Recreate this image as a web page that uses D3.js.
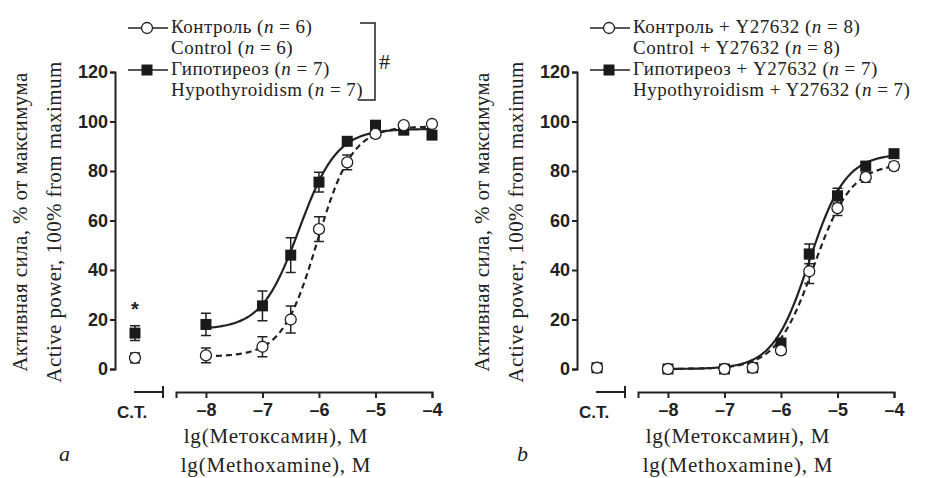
<!DOCTYPE html>
<html>
<head>
<meta charset="utf-8">
<script src="https://cdn.jsdelivr.net/npm/d3@7"></script>
<style>
  body { margin: 0; background: #fff; }
  .tick text { font-family: "Liberation Sans", Arial, sans-serif; font-weight: bold; font-size: 18px; fill: #222; }
  .serif { font-family: "Liberation Serif", "Times New Roman", serif; font-size: 21px; fill: #222; }
  .legend { font-size: 19px; letter-spacing: 0.5px; }
</style>
</head>
<body>
<svg id="chart" width="928" height="478"></svg>
<script>
// concentrations, lg M
var conc = [-8, -7, -6.5, -6, -5.5, -5, -4.5, -4];
var xTicks = [-8, -7, -6, -5, -4];
var yTicks = [0, 20, 40, 60, 80, 100, 120];

// panel a
var ctrlA    = [5.5, 9, 20, 56.5, 83.5, 95, 98.5, 99];
var ctrlAErr = [3, 4, 5.5, 5, 3, 1.5, 1, 1];
var hypoA    = [18, 25.5, 46, 75.5, 92, 98.5, 96.5, 94.5];
var hypoAErr = [4.5, 6, 7, 4, 1.5, 1.5, 1.5, 1];
var ctA      = [4.5, 14.5];   // control, hypo at C.T.
var ctAErr   = [2, 3];
// fit: bottom, top, logEC50, hill slope
var fitCtrlA = [5, 98, -6.03, 1.4];
var fitHypoA = [16, 97, -6.35, 1.3];

// panel b
var ctrlB    = [0, 0, 0.5, 7.5, 39.5, 65, 77.5, 82];
var ctrlBErr = [0.5, 0.5, 0.5, 1.5, 5, 3, 2, 1.5];
var hypoB    = [0, 0, 0.5, 10.5, 46.5, 70, 82, 87];
var hypoBErr = [0.5, 0.5, 0.5, 1.5, 4, 3, 1.5, 1];
var ctB      = [0.5, 0.5];
var ctBErr   = [0.5, 0.5];
var fitCtrlB = [0, 83, -5.42, 1.3];
var fitHypoB = [0, 87, -5.5, 1.35];

var legendA = [["Контроль", " (", "n", " = 6)"], ["Control", " (", "n", " = 6)"],
               ["Гипотиреоз", " (", "n", " = 7)"], ["Hypothyroidism", " (", "n", " = 7)"]];
var legendB = [["Контроль + Y27632", " (", "n", " = 8)"], ["Control + Y27632", " (", "n", " = 8)"],
               ["Гипотиреоз + Y27632", "  (", "n", " = 7)"], ["Hypothyroidism + Y27632", "  (", "n", " = 7)"]];

var svg = d3.select("#chart");
var ink = "#222";

function hill(p, x) {
  return p[0] + (p[1] - p[0]) / (1 + Math.pow(10, (p[2] - x) * p[3]));
}

function panel(o) {
  var ox = o.ox;
  var g = svg.append("g").attr("transform", "translate(" + ox + ",0)");

  var y = d3.scaleLinear().domain([0, 120]).range([369, 72]);
  var x = d3.scaleLinear().domain([-8.53, -4]).range([176, 432]);
  var ctX = 135;

  // y axis
  var ya = g.append("g").attr("transform", "translate(115,0)")
    .call(d3.axisLeft(y).tickValues(yTicks).tickSize(5).tickPadding(2));
  ya.selectAll("path, line").attr("stroke", ink).attr("stroke-width", 2);

  // x axis main
  var xa = g.append("g").attr("transform", "translate(0,392)")
    .call(d3.axisBottom(x).tickValues(xTicks).tickSize(6).tickPadding(5).tickSizeOuter(6)
      .tickFormat(function(d) { return "–" + Math.abs(d); }));
  xa.selectAll("path, line").attr("stroke", ink).attr("stroke-width", 2);

  // C.T. segment
  g.append("path").attr("d", "M134,392H163M163,386V398")
    .attr("stroke", ink).attr("stroke-width", 2).attr("fill", "none");
  g.append("text").attr("x", 132).attr("y", 418).attr("text-anchor", "middle")
    .style("font-family", "Liberation Sans, Arial, sans-serif").style("font-weight", "bold")
    .style("font-size", "17px").attr("fill", ink).text("C.T.");

  // fitted curves
  var grid = d3.range(-8, -3.999, 0.02);
  var line = d3.line().x(function(d) { return x(d[0]); }).y(function(d) { return y(d[1]); });
  g.append("path").datum(grid.map(function(v) { return [v, hill(o.fitCtrl, v)]; }))
    .attr("d", line).attr("fill", "none").attr("stroke", ink)
    .attr("stroke-width", 2.2).attr("stroke-dasharray", "6,4");
  g.append("path").datum(grid.map(function(v) { return [v, hill(o.fitHypo, v)]; }))
    .attr("d", line).attr("fill", "none").attr("stroke", ink).attr("stroke-width", 2.2);

  function series(vals, errs, ctv, cte, shape) {
    var pts = conc.map(function(c, i) { return { x: x(c), v: vals[i], e: errs[i] }; });
    pts.unshift({ x: ctX, v: ctv, e: cte });
    var eb = g.append("g").attr("stroke", ink).attr("stroke-width", 1.5);
    pts.forEach(function(p) {
      eb.append("path").attr("d",
        "M" + p.x + "," + y(p.v - p.e) + "V" + y(p.v + p.e) +
        "M" + (p.x - 5) + "," + y(p.v - p.e) + "H" + (p.x + 5) +
        "M" + (p.x - 5) + "," + y(p.v + p.e) + "H" + (p.x + 5));
    });
    if (shape === "sq") {
      g.selectAll(null).data(pts).enter().append("rect")
        .attr("x", function(d) { return d.x - 5.5; }).attr("y", function(d) { return y(d.v) - 5.5; })
        .attr("width", 11).attr("height", 11).attr("fill", "#1a1a1a");
    } else {
      g.selectAll(null).data(pts).enter().append("circle")
        .attr("cx", function(d) { return d.x; }).attr("cy", function(d) { return y(d.v); })
        .attr("r", 5.5).attr("fill", "#fff").attr("stroke", ink).attr("stroke-width", 1.3);
    }
  }
  series(o.hypo, o.hypoErr, o.ct[1], o.ctErr[1], "sq");
  series(o.ctrl, o.ctrlErr, o.ct[0], o.ctErr[0], "ci");

  if (o.star) {
    g.append("text").attr("x", ctX).attr("y", y(o.ct[1]) - 17).attr("text-anchor", "middle")
      .style("font-family", "Liberation Sans, Arial, sans-serif").style("font-weight", "bold")
      .style("font-size", "20px").attr("fill", ink).text("*");
  }

  // y axis title
  var yt = g.append("text").attr("class", "serif").attr("text-anchor", "middle")
    .style("letter-spacing", "0.4px")
    .attr("transform", "translate(0,222) rotate(-90)");
  yt.append("tspan").attr("x", 0).attr("y", 27).text("Активная сила, % от максимума");
  yt.append("tspan").attr("x", 0).attr("y", 61).text("Active power, 100% from maximum");

  // x axis title
  g.append("text").attr("class", "serif").attr("x", 276).attr("y", 443)
    .style("letter-spacing", "0.8px")
    .attr("text-anchor", "middle").text("lg(Метоксамин), M");
  g.append("text").attr("class", "serif").attr("x", 276).attr("y", 472)
    .style("letter-spacing", "0.8px")
    .attr("text-anchor", "middle").text("lg(Methoxamine), M");
  g.append("text").attr("class", "serif").attr("x", o.letterX).attr("y", 461)
    .style("font-style", "italic").style("font-size", "22px").text(o.letter);

  // legend
  var rows = [33, 54, 75, 96];
  o.legend.forEach(function(parts, i) {
    var t = g.append("text").attr("class", "serif legend").attr("x", 171).attr("y", rows[i]);
    t.append("tspan").text(parts[0] + parts[1]);
    t.append("tspan").style("font-style", "italic").text(parts[2]);
    t.append("tspan").text(parts[3]);
  });
  g.append("line").attr("x1", 128).attr("x2", 168).attr("y1", 28).attr("y2", 28)
    .attr("stroke", ink).attr("stroke-width", 1.5);
  g.append("circle").attr("cx", 147).attr("cy", 28).attr("r", 5.5)
    .attr("fill", "#fff").attr("stroke", ink).attr("stroke-width", 1.3);
  g.append("line").attr("x1", 128).attr("x2", 168).attr("y1", 70).attr("y2", 70)
    .attr("stroke", ink).attr("stroke-width", 1.5);
  g.append("rect").attr("x", 141.5).attr("y", 64.5).attr("width", 11).attr("height", 11)
    .attr("fill", "#1a1a1a");

  if (o.bracket) {
    g.append("path").attr("d", "M360,23H375V100H358")
      .attr("fill", "none").attr("stroke", ink).attr("stroke-width", 1.5);
    g.append("text").attr("class", "serif").attr("x", 379).attr("y", 69)
      .style("font-size", "22px").text("#");
  }
}

panel({ ox: 0, ctrl: ctrlA, ctrlErr: ctrlAErr, hypo: hypoA, hypoErr: hypoAErr, ct: ctA, ctErr: ctAErr,
        fitCtrl: fitCtrlA, fitHypo: fitHypoA, legend: legendA, letter: "a", letterX: 59,
        star: true, bracket: true });
panel({ ox: 462, ctrl: ctrlB, ctrlErr: ctrlBErr, hypo: hypoB, hypoErr: hypoBErr, ct: ctB, ctErr: ctBErr,
        fitCtrl: fitCtrlB, fitHypo: fitHypoB, legend: legendB, letter: "b", letterX: 55,
        star: false, bracket: false });
</script>
</body>
</html>
